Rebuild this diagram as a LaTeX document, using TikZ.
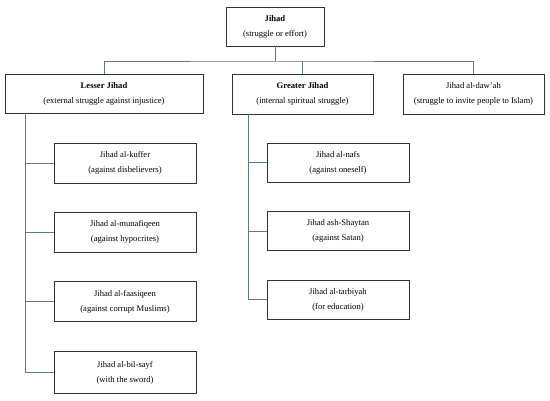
\documentclass[tikz,border=0pt]{standalone}
\usepackage{fontspec}
\setmainfont{Liberation Serif}
\definecolor{connc}{HTML}{61778C}
\definecolor{boxc}{HTML}{333333}
\tikzset{
  box/.style={draw=boxc, line width=0.8pt, fill=white, rectangle, inner sep=0pt,
    align=center, font=\fontsize{8.6}{15}\selectfont},
  conn/.style={draw=connc, line width=0.9pt},
}
\begin{document}
\begin{tikzpicture}[x=1pt,y=-1pt]
\useasboundingbox (0,0) rectangle (550,401);
% top
\node[box, minimum width=98pt, minimum height=39pt] (jihad) at (275,26.5)
  {\textbf{Jihad}\\(struggle or effort)};
% level 2
\node[box, minimum width=198pt, minimum height=39pt] (lesser) at (104,93.5)
  {\textbf{Lesser Jihad}\\(external struggle against injustice)};
\node[box, minimum width=141pt, minimum height=40pt] (greater) at (302.5,94)
  {\textbf{Greater Jihad}\\(internal spiritual struggle)};
\node[box, minimum width=141pt, minimum height=40pt] (dawah) at (473.5,94)
  {Jihad al-daw’ah\\(struggle to invite people to Islam)};
% lesser children
\node[box, minimum width=142pt, minimum height=40pt] (k1) at (125,163)
  {Jihad al-kuffer\\(against disbelievers)};
\node[box, minimum width=142pt, minimum height=40pt] (k2) at (125,232)
  {Jihad al-munafiqeen\\(against hypocrites)};
\node[box, minimum width=142pt, minimum height=40pt] (k3) at (125,301.5)
  {Jihad al-faasiqeen\\(against corrupt Muslims)};
\node[box, minimum width=142pt, minimum height=42pt] (k4) at (125,372.5)
  {Jihad al-bil-sayf\\(with the sword)};
% greater children
\node[box, minimum width=142pt, minimum height=39pt] (g1) at (338,162.5)
  {Jihad al-nafs\\(against oneself)};
\node[box, minimum width=142pt, minimum height=39pt] (g2) at (338,231)
  {Jihad ash-Shaytan\\(against Satan)};
\node[box, minimum width=142pt, minimum height=39pt] (g3) at (338,299.5)
  {Jihad al-tarbiyah\\(for education)};
% connectors
\coordinate (bus) at (275,61);
\draw[conn] (jihad.south) -- (bus);
\draw[conn] (lesser.north) |- (bus) -| (dawah.north);
\draw[conn] (greater.north) -- (greater.north |- bus);
\coordinate (lv) at (25,113);
\draw[conn] (lv) |- (k4.west);
\draw[conn] (k1.west) -- (k1.west -| lv);
\draw[conn] (k2.west) -- (k2.west -| lv);
\draw[conn] (k3.west) -- (k3.west -| lv);
\coordinate (gv) at (248,114);
\draw[conn] (gv) |- (g3.west);
\draw[conn] (g1.west) -- (g1.west -| gv);
\draw[conn] (g2.west) -- (g2.west -| gv);
\end{tikzpicture}
\end{document}
